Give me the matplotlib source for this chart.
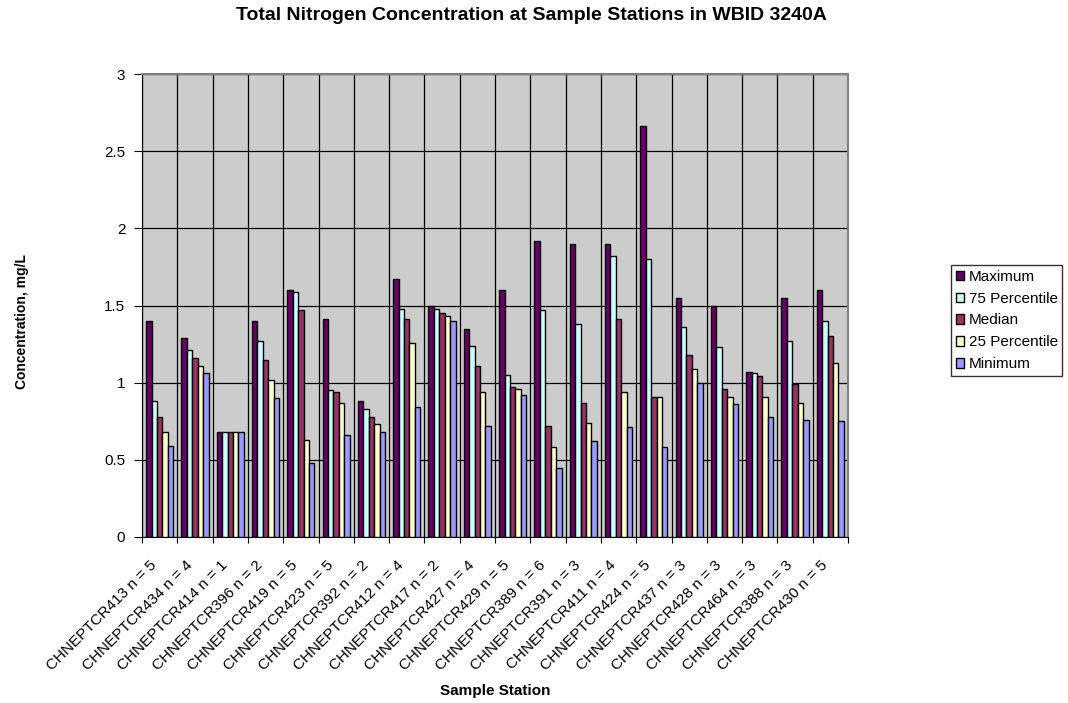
import numpy as np
import matplotlib
matplotlib.use("Agg")
import matplotlib.pyplot as plt
import matplotlib.transforms as mtransforms

plt.rcParams['font.family'] = ['Liberation Sans', 'DejaVu Sans']
plt.rcParams['font.size'] = 11

# --- Data: total nitrogen summary per station (mg/L) ---
stations = ["CHNEPTCR413 n = 5", "CHNEPTCR434 n = 4", "CHNEPTCR414 n = 1",
            "CHNEPTCR396 n = 2", "CHNEPTCR419 n = 5", "CHNEPTCR423 n = 5",
            "CHNEPTCR392 n = 2", "CHNEPTCR412 n = 4", "CHNEPTCR417 n = 2",
            "CHNEPTCR427 n = 4", "CHNEPTCR429 n = 5", "CHNEPTCR389 n = 6",
            "CHNEPTCR391 n = 3", "CHNEPTCR411 n = 4", "CHNEPTCR424 n = 5",
            "CHNEPTCR437 n = 3", "CHNEPTCR428 n = 3", "CHNEPTCR464 n = 3",
            "CHNEPTCR388 n = 3", "CHNEPTCR430 n = 5"]

maximum = [1.40, 1.29, 0.68, 1.40, 1.60, 1.41, 0.88, 1.67, 1.50, 1.35,
           1.60, 1.92, 1.90, 1.90, 2.66, 1.55, 1.50, 1.07, 1.55, 1.60]
p75 = [0.88, 1.21, 0.68, 1.27, 1.59, 0.95, 0.83, 1.48, 1.48, 1.24,
       1.05, 1.47, 1.38, 1.82, 1.80, 1.36, 1.23, 1.06, 1.27, 1.40]
median = [0.78, 1.16, 0.68, 1.15, 1.47, 0.94, 0.78, 1.41, 1.45, 1.11,
          0.97, 0.72, 0.87, 1.41, 0.91, 1.18, 0.96, 1.04, 0.99, 1.30]
p25 = [0.68, 1.11, 0.68, 1.02, 0.63, 0.87, 0.73, 1.26, 1.43, 0.94,
       0.96, 0.58, 0.74, 0.94, 0.91, 1.09, 0.91, 0.91, 0.87, 1.13]
minimum = [0.59, 1.06, 0.68, 0.90, 0.48, 0.66, 0.68, 0.84, 1.40, 0.72,
           0.92, 0.45, 0.62, 0.71, 0.58, 1.00, 0.86, 0.78, 0.76, 0.75]

series = [("Maximum", maximum, "#660066"),
          ("75 Percentile", p75, "#CCFFFF"),
          ("Median", median, "#993366"),
          ("25 Percentile", p25, "#FFFFCC"),
          ("Minimum", minimum, "#9999FF")]

fig = plt.figure(figsize=(10.68, 7.03), dpi=100)
ax = fig.add_axes([142 / 1068, 1 - 537 / 703, 706 / 1068, 463 / 703])
ax.set_facecolor("#CCCCCC")

x = np.arange(len(stations))
w = 1 / 6.5
for i, (name, vals, col) in enumerate(series):
    ax.bar(x + (i - 2) * w, vals, width=w, color=col, edgecolor="black",
           linewidth=1, label=name, zorder=3)

ax.set_xlim(-0.5, len(stations) - 0.5)
ax.set_ylim(0, 3)
ax.set_yticks(np.arange(0, 3.01, 0.5))
ax.set_yticklabels(["0", "0.5", "1", "1.5", "2", "2.5", "3"])

# boundaries carry the ticks and grid, centres carry the labels
ax.set_xticks(np.arange(-0.5, len(stations), 1.0))
ax.set_xticklabels([])
ax.set_xticks(x, minor=True)
ax.set_xticklabels(stations, minor=True, rotation=45, ha="right",
                   va="center", rotation_mode="anchor")
ax.tick_params(axis="x", which="minor", length=0, pad=18.5)
ax.tick_params(axis="x", which="major", length=4.5, direction="out", color="black")
ax.tick_params(axis="y", length=6, direction="out", pad=6)

shift = mtransforms.ScaledTranslation(-5 / 100, 0, fig.dpi_scale_trans)
for lbl in ax.get_xticklabels(minor=True):
    lbl.set_transform(lbl.get_transform() + shift)

ax.grid(True, which="major", axis="both", color="black", linewidth=0.9, zorder=1)
ax.set_axisbelow(True)

for side in ["top", "right"]:
    ax.spines[side].set_color("#808080")
    ax.spines[side].set_linewidth(1.5)
for side in ["left", "bottom"]:
    ax.spines[side].set_color("black")

fig.text(531 / 1068, 1 - 16 / 703, "Total Nitrogen Concentration at Sample Stations in WBID 3240A",
         ha="center", va="center", fontweight="bold", fontsize=14)
fig.text(22 / 1068, 1 - 322 / 703, "Concentration, mg/L", rotation=90,
         ha="center", va="center", fontweight="bold", fontsize=10)
fig.text(495 / 1068, 1 - 691 / 703, "Sample Station",
         ha="center", va="center", fontweight="bold", fontsize=11)

leg = fig.legend(loc="upper left", bbox_to_anchor=(951 / 1068, 1 - 265 / 703),
                 frameon=True, fancybox=False, edgecolor="black",
                 handlelength=0.55, handleheight=0.55, handletextpad=0.3,
                 labelspacing=0.52, borderpad=0.3, borderaxespad=0)
leg.get_frame().set_linewidth(1)

fig.savefig("out.png", dpi=100)
